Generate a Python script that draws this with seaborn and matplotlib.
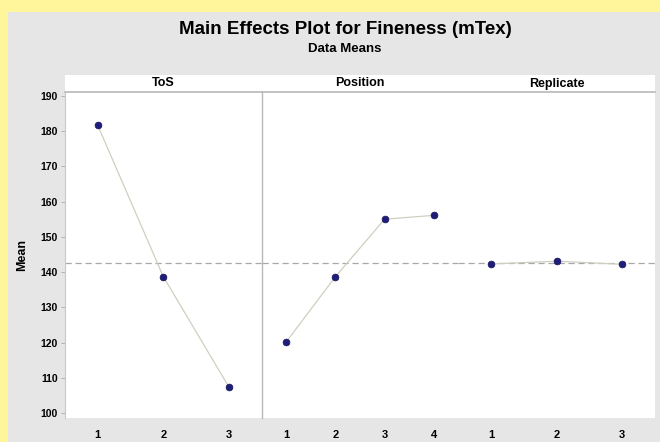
import numpy as np
import pandas as pd
import matplotlib
matplotlib.use("Agg")
import matplotlib.pyplot as plt
from matplotlib.patches import Rectangle
import seaborn as sns

# Main effects data (data means)
factors = ["ToS", "Position", "Replicate"]
tos_levels = [1, 2, 3]
tos_means = [181.6, 138.7, 107.4]
position_levels = [1, 2, 3, 4]
position_means = [120.2, 138.7, 155.0, 156.1]
replicate_levels = [1, 2, 3]
replicate_means = [142.3, 143.1, 142.2]
y_ticks = [100, 110, 120, 130, 140, 150, 160, 170, 180, 190]

levels = [tos_levels, position_levels, replicate_levels]
means = [tos_means, position_means, replicate_means]
grand_mean = np.mean(tos_means)

sns.set_theme(style="white")
plt.rcParams["font.family"] = ["Liberation Sans Narrow", "Liberation Sans", "DejaVu Sans"]
plt.rcParams["font.weight"] = "bold"
plt.rcParams["text.color"] = "black"
plt.rcParams["axes.labelcolor"] = "black"
plt.rcParams["xtick.color"] = "black"
plt.rcParams["ytick.color"] = "black"

fig = plt.figure(figsize=(6.6, 4.42), dpi=100)
fig.patch.set_facecolor("#E6E6E6")

# yellow frame at top and left
fig.patches.append(Rectangle((0, 1 - 12 / 442), 1, 12 / 442, transform=fig.transFigure,
                             facecolor="#FFF59A", edgecolor="none", zorder=0))
fig.patches.append(Rectangle((0, 0), 8 / 660, 1, transform=fig.transFigure,
                             facecolor="#FFF59A", edgecolor="none", zorder=0))

W, H = 660, 442
left, right = 65, 655
top, bottom = 92, 418
strip_top = 75
pw = (right - left) / 3

for i, (name, lv, mv) in enumerate(zip(factors, levels, means)):
    x0 = left + i * pw
    ax = fig.add_axes([x0 / W, 1 - bottom / H, pw / W, (bottom - top) / H])
    ax.set_facecolor("white")
    df = pd.DataFrame({"level": lv, "mean": mv})
    ax.axhline(grand_mean, color="#A8A8A8", lw=0.9, ls=(0, (5, 3)), zorder=1)
    sns.lineplot(data=df, x="level", y="mean", ax=ax, color="#CFCFC0", lw=0.9, zorder=2)
    sns.scatterplot(data=df, x="level", y="mean", ax=ax, color="#1E1E7A", s=24,
                    edgecolor="#15155A", linewidth=0.5, zorder=3)
    ax.set_xlim(0.5, len(lv) + 0.5)
    ax.set_ylim(98.6, 191.1)
    ax.set_xticks(lv)
    ax.set_xticklabels([str(v) for v in lv], fontsize=8, fontweight="bold")
    ax.set_xlabel("")
    ax.set_ylabel("")
    ax.tick_params(axis="x", length=0, pad=9)
    for s in ax.spines.values():
        s.set_color("#C8C8C8")
        s.set_linewidth(0.8)
    ax.spines["top"].set_visible(False)
    ax.spines["bottom"].set_visible(False)
    ax.spines["right"].set_visible(False)
    if i == 0:
        ax.set_yticks(y_ticks)
        ax.set_yticklabels([str(t) for t in y_ticks], fontsize=7.5, fontweight="bold")
        ax.tick_params(axis="y", length=3, width=0.6, color="#AAAAAA", left=True, pad=2)
        ax.set_ylabel("Mean", fontsize=9, fontweight="bold", labelpad=9)
    elif i == 1:
        ax.set_yticks([])
        ax.spines["left"].set_color("#B8B8B8")
        ax.spines["left"].set_linewidth(1.0)
    else:
        ax.set_yticks([])
        ax.spines["left"].set_visible(False)

    # strip header
    sax = fig.add_axes([x0 / W, 1 - top / H, pw / W, (top - strip_top) / H])
    sax.set_facecolor("white")
    sax.set_xticks([])
    sax.set_yticks([])
    for s in sax.spines.values():
        s.set_visible(False)
    sax.spines["bottom"].set_visible(True)
    sax.spines["bottom"].set_color("#BBBBBB")
    sax.text(0.5, 0.5, name, ha="center", va="center", fontsize=9, fontweight="bold",
             transform=sax.transAxes)

fig.text(345 / W, 1 - 29 / H, "Main Effects Plot for Fineness (mTex)", ha="center",
         va="center", fontsize=13.5, fontweight="bold")
fig.text(345 / W, 1 - 49 / H, "Data Means", ha="center", va="center",
         fontsize=9.5, fontweight="bold")

fig.savefig("out.png", dpi=100, facecolor=fig.get_facecolor())
